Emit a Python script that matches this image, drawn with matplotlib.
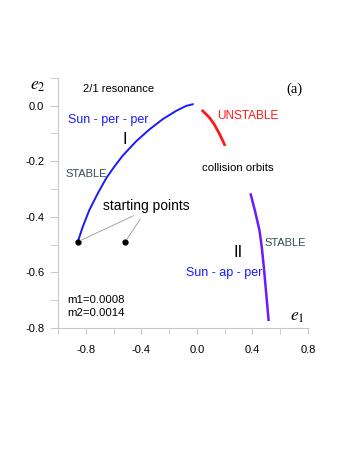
import matplotlib
matplotlib.use('Agg')
import matplotlib.pyplot as plt
import numpy as np

plt.rcParams['font.family'] = ['Liberation Sans', 'DejaVu Sans']
plt.rcParams['mathtext.fontset'] = 'stix'

# family curves in the (e1, e2) plane
per_per_e1 = [-0.858, -0.822, -0.774, -0.713, -0.653, -0.594, -0.536, -0.439,
              -0.343, -0.247, -0.150, -0.078, -0.030]
per_per_e2 = [-0.490, -0.436, -0.375, -0.315, -0.261, -0.219, -0.181, -0.129,
              -0.086, -0.049, -0.019, -0.001, 0.005]

unstable_e1 = [0.042, 0.090, 0.126, 0.162, 0.199]
unstable_e2 = [-0.019, -0.043, -0.068, -0.101, -0.140]

ap_per_e1 = [0.388, 0.420, 0.451, 0.468, 0.485, 0.500, 0.516]
ap_per_e2 = [-0.320, -0.382, -0.450, -0.512, -0.597, -0.681, -0.771]

start_e1 = [-0.858, -0.516]
start_e2 = [-0.49, -0.49]

fig = plt.figure(figsize=(3.54, 4.58), dpi=100)
ax = fig.add_axes([0.164, 0.284, 0.706, 0.546])

ax.plot(per_per_e1, per_per_e2, color='#1a1aff', lw=1.4, solid_joinstyle='round')
ax.plot(unstable_e1, unstable_e2, color='#ff1a1a', lw=2.0, solid_joinstyle='round')
ax.plot(ap_per_e1, ap_per_e2, color='#6a1aff', lw=1.8, solid_joinstyle='round')
ax.plot(start_e1, start_e2, 'o', color='black', ms=3.5)

# leader lines from the label to the starting points
ax.annotate('', xy=(start_e1[0], start_e2[0]), xytext=(-0.456, -0.396),
            arrowprops=dict(arrowstyle='-', color='#999999', lw=0.6, shrinkA=0, shrinkB=2))
ax.annotate('', xy=(start_e1[1], start_e2[1]), xytext=(-0.408, -0.408),
            arrowprops=dict(arrowstyle='-', color='#999999', lw=0.6, shrinkA=0, shrinkB=2))

ax.set_xlim(-1.0, 0.8)
ax.set_ylim(-0.8, 0.1)
ax.set_xticks(np.arange(-1.0, 0.81, 0.2), minor=True)
ax.set_xticks([-0.8, -0.4, 0.0, 0.4, 0.8])
ax.set_xticklabels(['-0.8', '-0.4', '0.0', '0.4', '0.8'])
ax.set_yticks(np.arange(-0.8, 0.11, 0.1), minor=True)
ax.set_yticks([-0.8, -0.6, -0.4, -0.2, 0.0])
ax.set_yticklabels(['-0.8', '-0.6', '-0.4', '-0.2', '0.0'])

for side in ['top', 'right']:
    ax.spines[side].set_visible(False)
for side in ['left', 'bottom']:
    ax.spines[side].set_color('#c8c8c8')
    ax.spines[side].set_linewidth(0.8)
ax.tick_params(which='both', direction='out', color='#c8c8c8', labelsize=8)
ax.tick_params(axis='y', which='both', length=6, pad=4)
ax.tick_params(axis='x', which='both', length=4, pad=8)

ax.text(-1.144, 0.069, '$e_2$', fontsize=12.5, ha='center', va='center', clip_on=False)
ax.text(0.726, -0.762, '$e_1$', fontsize=12.5, ha='center', va='center')
ax.text(0.704, 0.058, '(a)', fontsize=10.5, family='Liberation Serif', ha='center', va='center')

ax.text(-0.819, 0.061, '2/1 resonance', fontsize=8, va='center')
ax.text(-0.928, -0.051, 'Sun - per - per', fontsize=9, color='#1a1aff', va='center')
ax.text(-0.516, -0.123, 'I', fontsize=12, ha='center', va='center')
ax.text(-0.949, -0.245, 'STABLE', fontsize=8, color='#2f4f4f', va='center')
ax.text(0.148, -0.036, 'UNSTABLE', fontsize=8.5, color='#ff1a1a', va='center')
ax.text(0.040, -0.224, 'collision orbits', fontsize=8.2, va='center')
ax.text(-0.675, -0.361, 'starting points', fontsize=10, va='center')
ax.text(0.300, -0.527, 'II', fontsize=12, ha='center', va='center')
ax.text(0.473, -0.603, 'Sun - ap - per', fontsize=9, color='#1a1aff', ha='right', va='center')
ax.text(0.487, -0.495, 'STABLE', fontsize=8, color='#2f4f4f', va='center')
ax.text(-0.935, -0.700, 'm1=0.0008', fontsize=8.2, va='center')
ax.text(-0.935, -0.747, 'm2=0.0014', fontsize=8.2, va='center')

fig.savefig('out.png', dpi=100)
